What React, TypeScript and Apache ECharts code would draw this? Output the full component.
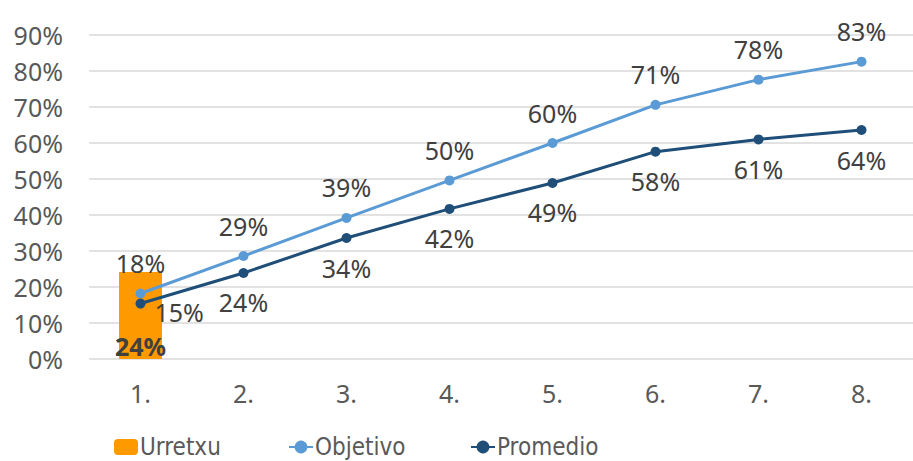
import React, { useEffect, useRef } from "react";
import * as echarts from "echarts";

const categories = ["1.", "2.", "3.", "4.", "5.", "6.", "7.", "8."];
const urretxu = [24.2, null, null, null, null, null, null, null];
const objetivo = [18.2, 28.6, 39.2, 49.6, 60.0, 70.6, 77.6, 82.6];
const promedio = [15.4, 23.9, 33.6, 41.7, 48.9, 57.6, 61.0, 63.6];
const yTicks = { min: 0, max: 90, interval: 10 };
const legendNames = ["Urretxu", "Objetivo", "Promedio"];

const FONT = "'Noto Sans', 'Open Sans', sans-serif";
const LEGEND_FONT = "'Liberation Sans Narrow', 'DejaVu Sans Condensed', 'Noto Sans', sans-serif";
const LEGEND_LEFT = [114, 288, 470];
const FS = 25;

export default function App() {
  const ref = useRef<HTMLDivElement>(null);
  useEffect(() => {
    if (!ref.current) return;
    const chart = echarts.init(ref.current, null, { renderer: "svg" });
    const pct = (p: any) => Math.round(p.value) + "%";
    chart.setOption({
      animation: false,
      textStyle: { fontFamily: FONT },
      grid: { left: 89, right: -11, top: 35, bottom: 102, containLabel: false },
      legend: legendNames.map((n, i) => ({
        left: LEGEND_LEFT[i],
        top: 435,
        itemWidth: 24,
        itemHeight: 16,
        padding: 0,
        textStyle: { fontSize: 24, color: "#595959", fontFamily: LEGEND_FONT, padding: [0, 0, 0, -3] },
        data: [n],
      })),
      xAxis: {
        type: "category",
        data: categories,
        boundaryGap: true,
        axisLine: { show: false },
        axisTick: { show: false },
        axisLabel: { fontSize: FS, color: "#595959", margin: 21, fontFamily: FONT },
      },
      yAxis: {
        type: "value",
        min: yTicks.min,
        max: yTicks.max,
        interval: yTicks.interval,
        axisLine: { show: false },
        axisTick: { show: false },
        splitLine: { lineStyle: { color: "#D9D9D9", width: 1.5 } },
        axisLabel: {
          fontSize: FS,
          color: "#595959",
          margin: 26,
          fontFamily: FONT,
          formatter: (v: number) => v + "%",
        },
      },
      series: [
        {
          name: "Urretxu",
          type: "bar",
          data: urretxu,
          barWidth: 43,
          itemStyle: { color: "#FF9900" },
          label: {
            show: true,
            position: "insideBottom",
            distance: 1,
            fontSize: FS,
            fontWeight: "bold",
            color: "#404040",
            fontFamily: FONT,
            formatter: pct,
          },
          z: 1,
        },
        {
          name: "Objetivo",
          type: "line",
          data: objetivo,
          color: "#5B9BD5",
          lineStyle: { width: 3, color: "#5B9BD5" },
          itemStyle: { color: "#5B9BD5" },
          symbol: "circle",
          symbolSize: 10,
          label: {
            show: true,
            position: "top",
            distance: 13,
            fontSize: FS,
            color: "#404040",
            fontFamily: FONT,
            formatter: pct,
          },
          z: 3,
        },
        {
          name: "Promedio",
          type: "line",
          data: promedio.map((v, i) =>
            i === 0
              ? { value: v, label: { position: "right", distance: 9, offset: [0, 8] } }
              : v
          ),
          color: "#1F4E79",
          lineStyle: { width: 3, color: "#1F4E79" },
          itemStyle: { color: "#1F4E79" },
          symbol: "circle",
          symbolSize: 10,
          label: {
            show: true,
            position: "bottom",
            distance: 12,
            fontSize: FS,
            color: "#404040",
            fontFamily: FONT,
            formatter: pct,
          },
          z: 4,
        },
      ],
    });
    return () => chart.dispose();
  }, []);
  return (
    <div
      ref={ref}
      style={{ position: "absolute", left: 0, top: 0, width: 913, height: 461, background: "#fff" }}
    />
  );
}
